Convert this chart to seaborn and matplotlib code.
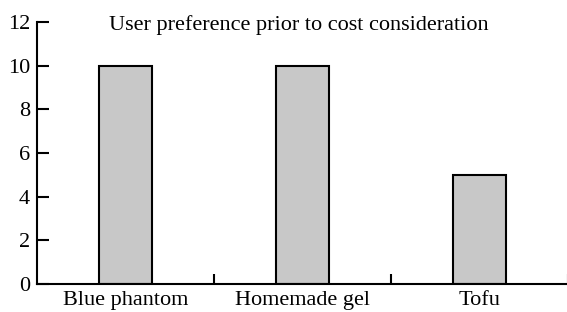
import matplotlib
matplotlib.use("Agg")
import matplotlib.pyplot as plt
import matplotlib.transforms as mtransforms
import seaborn as sns
import pandas as pd

categories = ["Blue phantom", "Homemade gel", "Tofu"]
values = [10, 10, 5]
yticks = [0, 2, 4, 6, 8, 10, 12]
title = "User preference prior to cost consideration"

sns.set_style("white")
plt.rcParams["font.family"] = ["Liberation Serif", "DejaVu Serif"]

df = pd.DataFrame({"cat": categories, "val": values})

fig = plt.figure(figsize=(5.67, 3.12), dpi=100)
ax = fig.add_axes([37/567, 1-284/312, 531/567, 262/312])
sns.barplot(data=df, x="cat", y="val", ax=ax, color="#c8c8c8", saturation=1,
            width=0.305, edgecolor="black", linewidth=1.5)
ax.set_xlim(-0.5, 2.5)
ax.set_ylim(0, 12)
ax.set_yticks(yticks)
ax.set_xlabel("")
ax.set_ylabel("")
for s in ["top", "right"]:
    ax.spines[s].set_visible(False)
for s in ["left", "bottom"]:
    ax.spines[s].set_color("black")
    ax.spines[s].set_linewidth(1.5)
ax.tick_params(axis="y", direction="in", length=8.6, width=1.5, color="black",
               labelsize=16, pad=5, left=True, labelcolor="black")
ax.set_xticks([0.5, 1.5, 2.5], minor=True)
ax.set_xticks([0, 1, 2])
ax.set_xticklabels(categories)
ax.tick_params(axis="x", which="major", length=0, labelsize=16, pad=5,
               labelcolor="black")
ax.tick_params(axis="x", which="minor", direction="in", length=7.5, width=1.5,
               color="black", bottom=True)
trans = mtransforms.blended_transform_factory(ax.transAxes, ax.transData)
trans = trans + mtransforms.ScaledTranslation(-3/72, -2/72, fig.dpi_scale_trans)
ax.text(0.5, 12, title, transform=trans, ha="center", va="center",
        fontsize=16, color="black")
ax.grid(False)
fig.savefig("out.png", dpi=100)
